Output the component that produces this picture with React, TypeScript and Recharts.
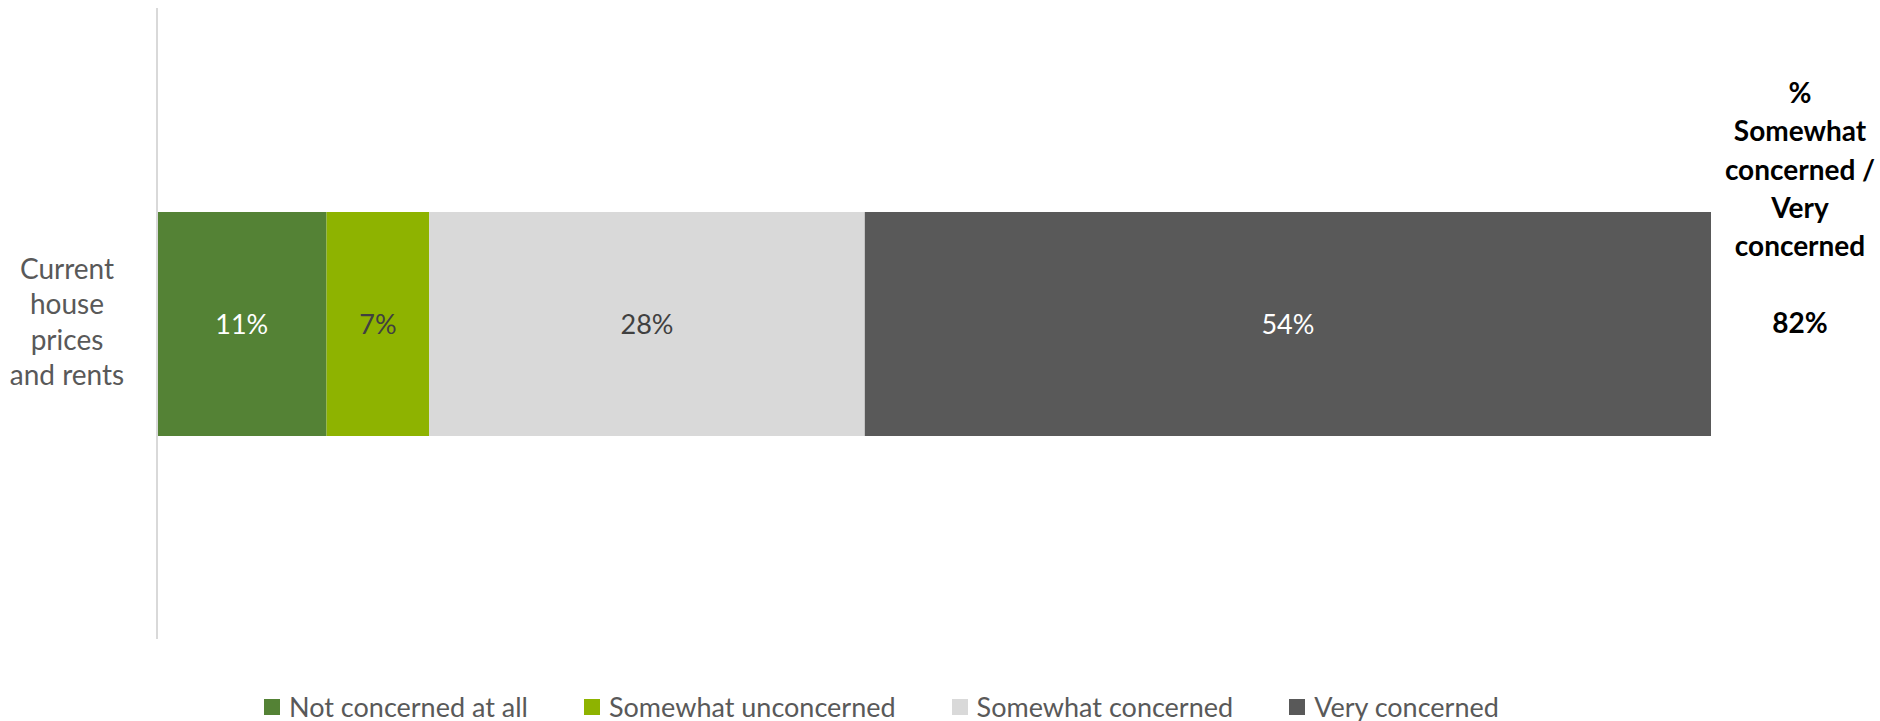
import { BarChart, Bar, XAxis, YAxis, LabelList } from 'recharts';

const categories = ['Current house prices and rents'];
const categoryLines = [['Current', 'house', 'prices', 'and rents']];
const notConcerned = [10.9];
const somewhatUnconcerned = [6.6];
const somewhatConcerned = [28.0];
const veryConcerned = [54.4];

const seriesKeys = ['notConcerned', 'somewhatUnconcerned', 'somewhatConcerned', 'veryConcerned'];
const seriesNames = ['Not concerned at all', 'Somewhat unconcerned', 'Somewhat concerned', 'Very concerned'];
const seriesColors = ['#548235', '#8EB300', '#D9D9D9', '#595959'];
const labelColors = ['#FFFFFF', '#404040', '#404040', '#FFFFFF'];
const summaryTitle = ['%', 'Somewhat', 'concerned /', 'Very', 'concerned'];

const FONT = 'Lato, "Open Sans", sans-serif';

const data = categories.map((name, i) => ({
  name,
  lines: categoryLines[i],
  notConcerned: notConcerned[i],
  somewhatUnconcerned: somewhatUnconcerned[i],
  somewhatConcerned: somewhatConcerned[i],
  veryConcerned: veryConcerned[i],
  concernedTotal: somewhatConcerned[i] + veryConcerned[i],
}));

// category label on the left, wrapped like the original
const CategoryTick = (props: any) => {
  const { y, index } = props;
  const lines: string[] = data[index]?.lines ?? [];
  const lineH = 35.3;
  const first = y - 44.5;
  return (
    <text x={67} y={first} textAnchor="middle" fill="#595959" fontSize={28} fontFamily={FONT}>
      {lines.map((l, i) => (
        <tspan key={i} x={67} y={first + i * lineH}>
          {l}
        </tspan>
      ))}
    </text>
  );
};

// bold summary column on the right
const SummaryTick = (props: any) => {
  const { y, index } = props;
  const row = data[index];
  if (!row) return null;
  const lineH = 38.3;
  const first = y - 220.5;
  const lines = [...summaryTitle, '', `${Math.round(row.concernedTotal)}%`];
  return (
    <text x={1800} y={first} textAnchor="middle" fill="#000000" fontSize={28} fontWeight={700} fontFamily={FONT}>
      {lines.map((l, i) => (
        <tspan key={i} x={1800} y={first + i * lineH}>
          {l}
        </tspan>
      ))}
    </text>
  );
};

export default function App() {
  return (
    <div style={{ position: 'absolute', left: 0, top: 0, width: 1880, height: 721, background: '#fff' }}>
      <BarChart
        width={1880}
        height={721}
        data={data}
        layout="vertical"
        margin={{ top: 8, right: 0, bottom: 82, left: 0 }}
      >
        <XAxis type="number" hide domain={[0, 'dataMax']} />
        <YAxis
          yAxisId="left"
          type="category"
          dataKey="name"
          width={157}
          axisLine={{ stroke: '#D9D9D9', strokeWidth: 2 }}
          tickLine={false}
          tick={<CategoryTick />}
        />
        <YAxis
          yAxisId="right"
          orientation="right"
          type="category"
          dataKey="name"
          width={169}
          axisLine={false}
          tickLine={false}
          tick={<SummaryTick />}
        />
        {seriesKeys.map((key, i) => (
          <Bar
            key={key}
            yAxisId="left"
            dataKey={key}
            name={seriesNames[i]}
            stackId="a"
            fill={seriesColors[i]}
            barSize={224}
            isAnimationActive={false}
          >
            <LabelList
              dataKey={key}
              position="center"
              fill={labelColors[i]}
              fontSize={27}
              fontFamily={FONT}
              formatter={(v: any) => `${Math.round(Number(v))}%`}
            />
          </Bar>
        ))}
      </BarChart>
      <div
        style={{
          position: 'absolute',
          left: 264,
          top: 690,
          display: 'flex',
          alignItems: 'center',
          gap: 56,
          fontFamily: FONT,
          fontSize: 27,
          color: '#595959',
          whiteSpace: 'nowrap',
        }}
      >
        {seriesNames.map((n, i) => (
          <div key={n} style={{ display: 'flex', alignItems: 'center' }}>
            <span style={{ width: 16, height: 16, background: seriesColors[i], marginRight: 9, display: 'inline-block' }} />
            <span>{n}</span>
          </div>
        ))}
      </div>
    </div>
  );
}
